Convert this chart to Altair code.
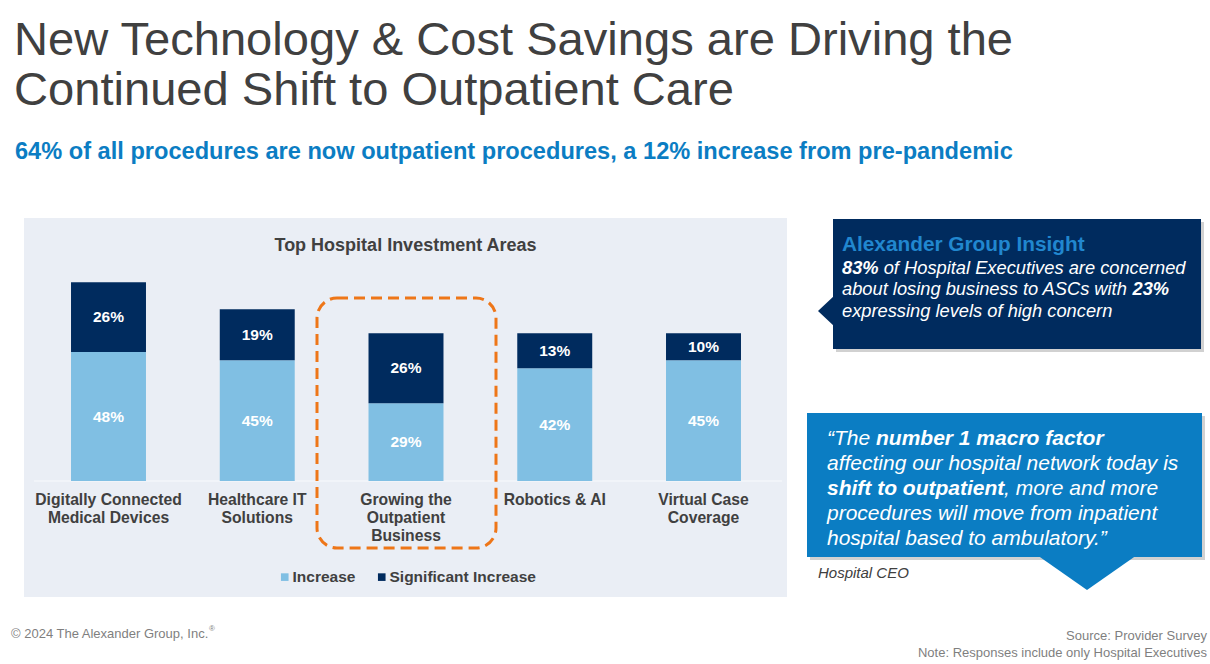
import altair as alt
import pandas as pd

FONT = "Liberation Sans"
GREY = "#404040"
LIGHT = "#80BFE3"
NAVY = "#002B5E"
BLUE = "#0B7DC3"
ORANGE = "#EE7618"
PANEL = "#EAEEF5"

# ---- data ----
categories = [
    "Digitally Connected Medical Devices",
    "Healthcare IT Solutions",
    "Growing the Outpatient Business",
    "Robotics & AI",
    "Virtual Case Coverage",
]
cat_labels = [
    "Digitally Connected|Medical Devices",
    "Healthcare IT|Solutions",
    "Growing the|Outpatient|Business",
    "Robotics & AI",
    "Virtual Case|Coverage",
]
increase = [48, 45, 29, 42, 45]
significant = [26, 19, 26, 13, 10]
series = ["Increase", "Significant Increase"]

rows = []
for c, a, b in zip(categories, increase, significant):
    rows.append({"category": c, "series": series[0], "value": a, "ord": 0})
    rows.append({"category": c, "series": series[1], "value": b, "ord": 1})
df = pd.DataFrame(rows)
lab_df = pd.DataFrame({"category": categories, "display": cat_labels})
one = pd.DataFrame({"k": [0]})

xscale = alt.Scale(domain=categories, range=[34.125, 777.875],
                   paddingInner=0.496, paddingOuter=0.248)
yscale = alt.Scale(domain=[0, 100], range=[481, 212.5], nice=False, zero=True)


def txt(s, x, y, size, color, weight="normal", style="normal", align="left",
        baseline="alphabetic"):
    return alt.Chart(one).mark_text(
        text=s, font=FONT, fontSize=size, fontWeight=weight, fontStyle=style,
        color=color, align=align, baseline=baseline,
    ).encode(x=alt.value(x), y=alt.value(y))


def box(x, x2, y, y2, **kw):
    return alt.Chart(one).mark_rect(**kw).encode(
        x=alt.value(x), x2=alt.value(x2), y=alt.value(y), y2=alt.value(y2))


def pointer(cx, cy, path, size, color):
    return alt.Chart(one).mark_point(
        shape=path, size=size, filled=True, fill=color, color=color,
        opacity=1, strokeWidth=0,
    ).encode(x=alt.value(cx), y=alt.value(cy))


panel = box(24, 787, 218, 597, color=PANEL)
baseline_rule = alt.Chart(one).mark_rule(color="#F8FAFD", strokeWidth=1.2).encode(
    x=alt.value(34), x2=alt.value(782), y=alt.value(481))

bars = alt.Chart(df).mark_bar().encode(
    x=alt.X("category:N", scale=xscale, axis=None, sort=categories),
    y=alt.Y("value:Q", stack="zero", scale=yscale, axis=None),
    color=alt.Color(
        "series:N",
        scale=alt.Scale(domain=series, range=[LIGHT, NAVY]),
        legend=alt.Legend(
            orient="none", legendX=277, legendY=569, direction="horizontal",
            title=None, symbolType="square", symbolSize=58, symbolStrokeWidth=0,
            labelFont=FONT, labelFontSize=15.5, labelFontWeight="bold",
            labelColor=GREY, labelOffset=0, columnPadding=18, padding=0,
        ),
    ),
    order=alt.Order("ord:Q", sort="ascending"),
)

bar_labels = alt.Chart(df).transform_stack(
    stack="value", groupby=["category"],
    sort=[alt.SortField("ord", order="ascending")], as_=["v0", "v1"],
).transform_calculate(
    mid="(datum.v0 + datum.v1) / 2", label="datum.value + '%'"
).mark_text(
    font=FONT, fontSize=15.5, fontWeight="bold", color="white", baseline="middle"
).encode(
    x=alt.X("category:N", scale=xscale, axis=None, sort=categories),
    y=alt.Y("mid:Q", scale=yscale, axis=None),
    text="label:N",
)

cat_text = alt.Chart(lab_df).mark_text(
    font=FONT, fontSize=15.7, fontWeight="bold", color=GREY, lineBreak="|",
    lineHeight=18, baseline="alphabetic",
).encode(
    x=alt.X("category:N", scale=xscale, axis=None, sort=categories),
    y=alt.value(504.5),
    text="display:N",
)

dashed = box(317, 496, 298, 548, fill="transparent", stroke=ORANGE,
             strokeWidth=3, strokeDash=[11, 6], cornerRadius=20)

B1 = 18.3
layers = [
    panel, baseline_rule, bars, bar_labels, cat_text, dashed,
    txt("Top Hospital Investment Areas", 405.5, 251, 18, GREY, weight="bold",
        align="center"),
    # titles
    txt("New Technology & Cost Savings are Driving the", 14, 55, 47.1, GREY),
    txt("Continued Shift to Outpatient Care", 14, 105, 47.1, GREY),
    txt("64% of all procedures are now outpatient procedures, a 12% increase from pre-pandemic",
        15, 159, 23.6, BLUE, weight="bold"),
    # insight box
    box(836, 1204, 222, 352, color="#000000", opacity=0.18),
    box(833, 1201, 219, 349, color=NAVY),
    pointer(819, 311, "M1,-1L-0.0625,0L1,1Z", 1024, NAVY),
    txt("Alexander Group Insight", 842, 251, 20.8, "#2187CF", weight="bold"),
    txt("83%", 842, 273.5, B1, "white", weight="bold", style="italic"),
    txt("of Hospital Executives are concerned", 883.7, 273.5, B1, "white", style="italic"),
    txt("about losing business to ASCs with", 842, 295, B1, "white", style="italic"),
    txt("23%", 1132.5, 295, B1, "white", weight="bold", style="italic"),
    txt("expressing levels of high concern", 842, 316.5, B1, "white", style="italic"),
    # quote box
    box(810, 1205, 416, 560, color="#000000", opacity=0.18),
    box(807, 1202, 413, 557, color=BLUE),
    pointer(1087, 540, "M-1,0.3L1,0.3L0,1Z", 10000, BLUE),
    txt("\u201cThe", 827, 445, 21, "white", style="italic"),
    txt("number 1 macro factor", 876, 445, 21, "white", weight="bold", style="italic"),
    txt("affecting our hospital network today is", 827, 470, 21, "white", style="italic"),
    txt("shift to outpatient", 827, 495, 21, "white", weight="bold", style="italic"),
    txt(", more and more", 1004, 495, 21, "white", style="italic"),
    txt("procedures will move from inpatient", 827, 520, 21, "white", style="italic"),
    txt("hospital based to ambulatory.\u201d", 827, 545, 21, "white", style="italic"),
    txt("Hospital CEO", 818, 578, 15, GREY, style="italic"),
    # footer
    txt("\u00a9 2024 The Alexander Group, Inc.", 11, 638, 13, "#7F7F7F"),
    txt("\u00ae", 209, 631, 8, "#7F7F7F"),
    txt("Source: Provider Survey", 1207, 640, 13, "#7F7F7F", align="right"),
    txt("Note: Responses include only Hospital Executives", 1207, 657, 13, "#7F7F7F",
        align="right"),
]

chart = alt.layer(*layers).properties(
    width=1210, height=664,
    autosize=alt.AutoSizeParams(type="none"),
    padding=0, background="white",
).configure_view(stroke=None)

chart.save("out.html", embed_options={"renderer": "svg", "actions": False})
